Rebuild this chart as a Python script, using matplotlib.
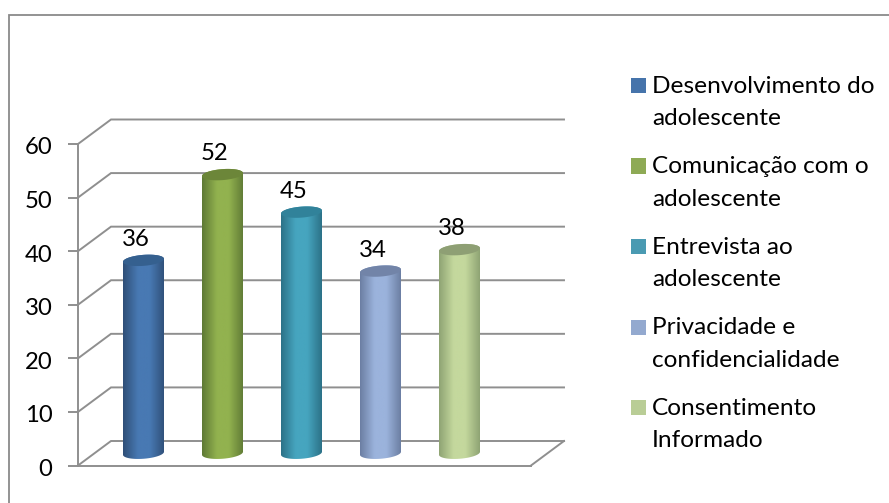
import numpy as np
import matplotlib
matplotlib.use('Agg')
import matplotlib.pyplot as plt
from matplotlib.colors import LinearSegmentedColormap
from matplotlib.patches import Polygon, Rectangle
from matplotlib.transforms import ScaledTranslation

categories = ['Desenvolvimento do\nadolescente', 'Comunicação com o\nadolescente',
              'Entrevista ao\nadolescente', 'Privacidade e\nconfidencialidade',
              'Consentimento\nInformado']
values = [36, 52, 45, 34, 38]
yticks = [0, 10, 20, 30, 40, 50, 60]

side_colors = ['#2f4f78', '#5f7a35', '#2c7288', '#6c7fa3', '#8fa474']
mid_colors = ['#4879b3', '#92b24f', '#46a5bf', '#9bb3dc', '#c4d89d']
top_colors = ['#35608f', '#6c8639', '#31829a', '#7284a8', '#8e9f74']
legend_colors = ['#4674ab', '#8eaa55', '#4a9ab2', '#93a9cf', '#b9cd96']

W, H = 889, 503
GRID = '#8f8f8f'
plt.rcParams['font.family'] = ['Lato', 'DejaVu Sans']

fig = plt.figure(figsize=(W / 100, H / 100), dpi=100)

# outer chart frame
fig.add_artist(Rectangle((9 / W, -0.01), (W - 7) / W, (H - 15.5) / H + 0.01,
                         transform=fig.transFigure, fill=False, ec='#8a8a8a', lw=1.3))

# front plane of the 3d box: 78..531 px across, 144..465.5 px down
ax = fig.add_axes([78 / W, 1 - 465.5 / H, 453 / W, 321.5 / H])
px_x = 79.0
px_y = 321.5 / 60
ax.set_xlim(-49 / px_x, (453 - 49) / px_x)
ax.set_ylim(0, 60)
ax.patch.set_visible(False)

depth_x = 33 / px_x
depth_y = 24.5 / px_y
x0, x1 = ax.get_xlim()

# side wall and back wall gridlines
for t in yticks:
    ax.plot([x0, x0 + depth_x, x1 + depth_x], [t, t + depth_y, t + depth_y],
            color=GRID, lw=1.4, clip_on=False, zorder=1, solid_joinstyle='miter')
ax.plot([x1, x1 + depth_x], [0, depth_y], color=GRID, lw=1.4, clip_on=False, zorder=1)

for side in ['top', 'right']:
    ax.spines[side].set_visible(False)
for side in ['left', 'bottom']:
    ax.spines[side].set_color(GRID)
    ax.spines[side].set_linewidth(1.4)
ax.set_xticks([])
ax.set_yticks(yticks)
ax.tick_params(axis='y', length=7, width=1.4, color=GRID, labelsize=17.2, pad=11.5, labelcolor='black')
down = ScaledTranslation(0, -2 / 100, fig.dpi_scale_trans)
for lab in ax.get_yticklabels():
    lab.set_transform(lab.get_transform() + down)

half_w = 20.5 / px_x
half_h = 5.5 / px_y
tilt = 1.5 / 20.5 * px_x / px_y  # ellipses lean up to the right


def ellipse_pts(cx, cy, start, stop):
    a = np.linspace(start, stop, 60)
    xs = half_w * np.cos(a)
    ys = half_h * np.sin(a) + tilt * xs
    return cx + xs, cy + ys


# cylinders sit half way back on the floor
for i, v in enumerate(values):
    cx = i + depth_x / 2
    base = depth_y / 2
    top = v + depth_y / 2

    xb, yb = ellipse_pts(cx, base, np.pi, 2 * np.pi)
    xt, yt = ellipse_pts(cx, top, 0, np.pi)
    outline = np.column_stack([np.r_[xb, xt], np.r_[yb, yt]])
    body = Polygon(outline, closed=True, transform=ax.transData, fc='none', ec='none')
    ax.add_patch(body)

    cmap = LinearSegmentedColormap.from_list('cyl', [side_colors[i], mid_colors[i], mid_colors[i], side_colors[i]])
    grad = np.interp(np.linspace(0, 1, 128), [0, 0.45, 0.55, 1], [0, 0.42, 0.58, 1])
    im = ax.imshow(grad[None, :], cmap=cmap, aspect='auto', zorder=3,
                   extent=(cx - half_w, cx + half_w, 0, top + 2))
    im.set_clip_path(body)

    xe, ye = ellipse_pts(cx, top, 0, 2 * np.pi)
    ax.add_patch(Polygon(np.column_stack([xe, ye]), closed=True, fc=top_colors[i], ec='none',
                         zorder=4, clip_on=False))

    ax.annotate(str(v), (cx, top), xytext=(-8 * 0.72, 21 * 0.72), textcoords='offset points',
                ha='center', va='center', fontsize=17.2, color='black', zorder=5)

ax.set_xlim(x0, x1)
ax.set_ylim(0, 60)

# legend entries, two lines of text each
for i, name in enumerate(categories):
    line_y = 85 + 80.5 * i
    fig.add_artist(Rectangle((631 / W, 1 - (line_y + 8) / H), 15 / W, 15 / H,
                             transform=fig.transFigure, fc=legend_colors[i], ec='none'))
    fig.text(652 / W, 1 - (line_y - 9) / H, name, fontsize=17.6, va='top', ha='left',
             linespacing=1.65, color='black')

fig.savefig('out.png', dpi=100)
